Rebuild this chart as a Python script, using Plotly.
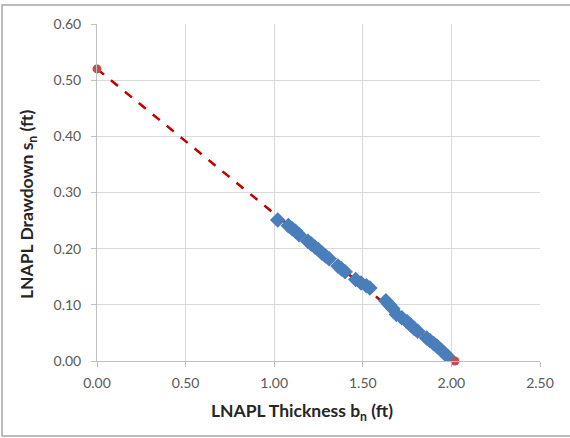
import plotly.graph_objects as go

# Observed data (LNAPL thickness vs drawdown)
thickness_ft = [1.02, 1.08, 1.10, 1.12, 1.14, 1.19, 1.21, 1.23, 1.25, 1.27, 1.29, 1.31,
                1.36, 1.38, 1.40, 1.46, 1.49, 1.52, 1.54, 1.63, 1.65, 1.67, 1.69,
                1.72, 1.75, 1.77, 1.79, 1.81, 1.86, 1.88, 1.90, 1.92, 1.94, 1.96, 1.98]
drawdown_ft = [0.251, 0.241, 0.236, 0.231, 0.225, 0.213, 0.208, 0.203, 0.198, 0.192, 0.187, 0.182,
               0.169, 0.164, 0.159, 0.145, 0.139, 0.134, 0.130, 0.107, 0.100, 0.093, 0.083,
               0.077, 0.070, 0.064, 0.058, 0.053, 0.041, 0.036, 0.031, 0.026, 0.020, 0.014, 0.008]

# Fitted line endpoints
fit_x = [0.0, 2.02]
fit_y = [0.52, 0.0]

x_ticks = [0.0, 0.5, 1.0, 1.5, 2.0, 2.5]
y_ticks = [0.0, 0.1, 0.2, 0.3, 0.4, 0.5, 0.6]

x_title = "LNAPL Thickness b<sub>n</sub> (ft)"
y_title = "LNAPL Drawdown s<sub>n</sub> (ft)"

fig = go.Figure()
fig.add_trace(go.Scatter(x=fit_x, y=fit_y, mode="lines",
                         line=dict(color="#C00000", width=2.5, dash="dash"),
                         showlegend=False, hoverinfo="skip"))
fig.add_trace(go.Scatter(x=thickness_ft, y=drawdown_ft, mode="markers",
                         marker=dict(symbol="diamond", size=12, color="#4A7EBB",
                                     line=dict(width=0)),
                         showlegend=False))
fig.add_trace(go.Scatter(x=fit_x, y=fit_y, mode="markers", cliponaxis=False,
                         marker=dict(symbol="circle", size=9, color="#C0504D"),
                         showlegend=False))

axis_common = dict(showgrid=True, gridcolor="#D9D9D9", gridwidth=1,
                   showline=True, linecolor="#BFBFBF", linewidth=1,
                   ticks="outside", ticklen=5, tickcolor="#BFBFBF",
                   zeroline=False, tickformat=".2f",
                   tickfont=dict(family="Lato", size=14, color="#595959"))

title_font = dict(family="Lato", size=17.5, color="#262626", weight="bold")

fig.update_layout(
    width=570, height=438,
    margin=dict(l=97, r=30, t=24, b=77),
    paper_bgcolor="white", plot_bgcolor="white",
    font=dict(family="Lato"),
    xaxis=dict(range=[0, 2.5], tickvals=x_ticks, **axis_common, ticklabelstandoff=4),
    yaxis=dict(range=[0, 0.6], tickvals=y_ticks, **axis_common, ticklabelstandoff=7),
    annotations=[
        dict(text=x_title, xref="paper", yref="paper", x=0.4628, y=-0.1513,
             xanchor="center", yanchor="middle", showarrow=False, font=title_font),
        dict(text=y_title, xref="paper", yref="paper", x=-0.1558, y=0.4659,
             xanchor="center", yanchor="middle", showarrow=False, textangle=-90,
             font=title_font),
    ],
    shapes=[dict(type="rect", xref="paper", yref="paper",
                 x0=-0.2144, x1=1.2, y0=-0.2226, y1=1.0564,
                 line=dict(color="#A6A6A6", width=1.5), layer="below")],
)

fig.write_html("out.html")
